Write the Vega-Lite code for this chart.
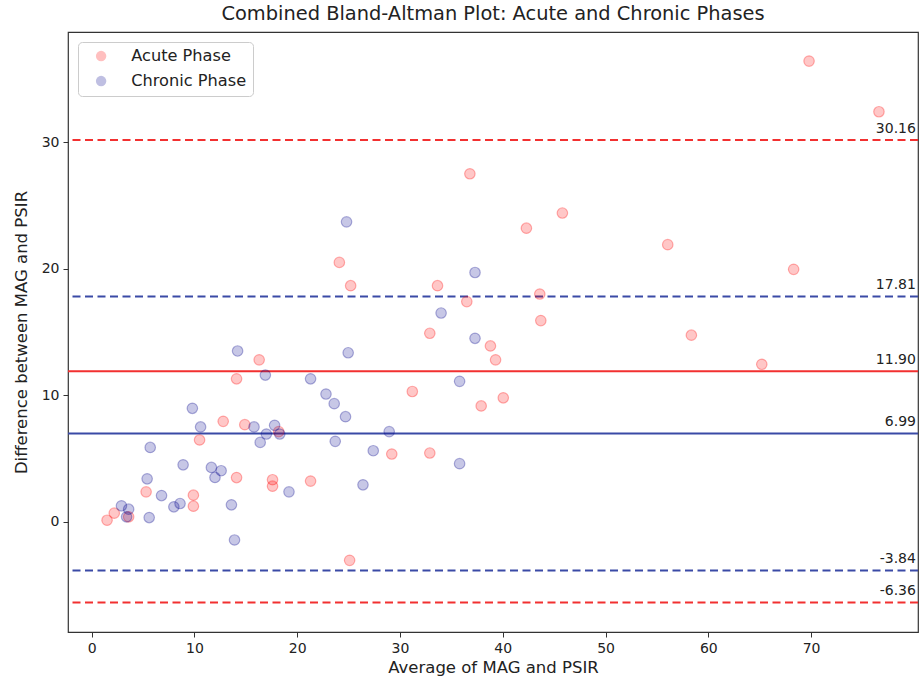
{
  "$schema": "https://vega.github.io/schema/vega-lite/v6.json",
  "autosize": {"type": "none"},
  "padding": {"left": 68, "top": 32, "right": 2, "bottom": 47},
  "width": 850,
  "height": 600,
  "background": "white",
  "config": {
    "view": {"stroke": "#333333", "strokeWidth": 1.2},
    "font": "DejaVu Sans",
    "axis": {"grid": false, "domain": false, "tickColor": "#333333", "tickSize": 5, "labelColor": "#222222", "labelFontSize": 14, "labelFont": "DejaVu Sans", "titleFont": "DejaVu Sans", "titleFontSize": 16.5, "titleFontWeight": "normal", "titleColor": "#222222", "labelPadding": 4}
  },
  "title": {"text": "Combined Bland-Altman Plot: Acute and Chronic Phases", "fontSize": 19.4, "fontWeight": "normal", "font": "DejaVu Sans", "color": "#222222", "anchor": "middle", "offset": 8},
  "datasets": {
    "points": [
      {"phase": "Acute Phase", "avg": 69.8, "diff": 36.4},
      {"phase": "Acute Phase", "avg": 76.6, "diff": 32.4},
      {"phase": "Acute Phase", "avg": 36.8, "diff": 27.5},
      {"phase": "Acute Phase", "avg": 45.8, "diff": 24.4},
      {"phase": "Acute Phase", "avg": 42.3, "diff": 23.2},
      {"phase": "Acute Phase", "avg": 56.05, "diff": 21.9},
      {"phase": "Acute Phase", "avg": 24.1, "diff": 20.5},
      {"phase": "Acute Phase", "avg": 68.3, "diff": 19.95},
      {"phase": "Acute Phase", "avg": 25.2, "diff": 18.66},
      {"phase": "Acute Phase", "avg": 33.65, "diff": 18.66},
      {"phase": "Acute Phase", "avg": 43.6, "diff": 18.0},
      {"phase": "Acute Phase", "avg": 36.5, "diff": 17.4},
      {"phase": "Acute Phase", "avg": 43.7, "diff": 15.9},
      {"phase": "Acute Phase", "avg": 32.9, "diff": 14.9},
      {"phase": "Acute Phase", "avg": 58.35, "diff": 14.75},
      {"phase": "Acute Phase", "avg": 38.8, "diff": 13.9},
      {"phase": "Acute Phase", "avg": 39.3, "diff": 12.8},
      {"phase": "Acute Phase", "avg": 65.2, "diff": 12.45},
      {"phase": "Acute Phase", "avg": 16.3, "diff": 12.8},
      {"phase": "Acute Phase", "avg": 14.1, "diff": 11.3},
      {"phase": "Acute Phase", "avg": 31.2, "diff": 10.3},
      {"phase": "Acute Phase", "avg": 40.05, "diff": 9.8},
      {"phase": "Acute Phase", "avg": 37.9, "diff": 9.16},
      {"phase": "Acute Phase", "avg": 12.8, "diff": 7.94},
      {"phase": "Acute Phase", "avg": 14.9, "diff": 7.68},
      {"phase": "Acute Phase", "avg": 10.5, "diff": 6.47},
      {"phase": "Acute Phase", "avg": 18.2, "diff": 7.13},
      {"phase": "Acute Phase", "avg": 29.2, "diff": 5.36},
      {"phase": "Acute Phase", "avg": 32.9, "diff": 5.44},
      {"phase": "Acute Phase", "avg": 17.6, "diff": 3.33},
      {"phase": "Acute Phase", "avg": 17.6, "diff": 2.82},
      {"phase": "Acute Phase", "avg": 21.3, "diff": 3.22},
      {"phase": "Acute Phase", "avg": 14.1, "diff": 3.5},
      {"phase": "Acute Phase", "avg": 5.3, "diff": 2.37},
      {"phase": "Acute Phase", "avg": 9.9, "diff": 2.11},
      {"phase": "Acute Phase", "avg": 9.9, "diff": 1.24},
      {"phase": "Acute Phase", "avg": 2.2, "diff": 0.69},
      {"phase": "Acute Phase", "avg": 1.5, "diff": 0.13},
      {"phase": "Acute Phase", "avg": 3.6, "diff": 0.4},
      {"phase": "Acute Phase", "avg": 25.1, "diff": -3.04},
      {"phase": "Chronic Phase", "avg": 24.8, "diff": 23.7},
      {"phase": "Chronic Phase", "avg": 37.3, "diff": 19.7},
      {"phase": "Chronic Phase", "avg": 34.0, "diff": 16.5},
      {"phase": "Chronic Phase", "avg": 37.3, "diff": 14.5},
      {"phase": "Chronic Phase", "avg": 14.2, "diff": 13.5},
      {"phase": "Chronic Phase", "avg": 24.96, "diff": 13.36},
      {"phase": "Chronic Phase", "avg": 16.9, "diff": 11.6},
      {"phase": "Chronic Phase", "avg": 21.3, "diff": 11.3},
      {"phase": "Chronic Phase", "avg": 35.8, "diff": 11.1},
      {"phase": "Chronic Phase", "avg": 22.8, "diff": 10.1},
      {"phase": "Chronic Phase", "avg": 23.6, "diff": 9.34},
      {"phase": "Chronic Phase", "avg": 9.8, "diff": 8.97},
      {"phase": "Chronic Phase", "avg": 24.7, "diff": 8.31},
      {"phase": "Chronic Phase", "avg": 10.6, "diff": 7.5},
      {"phase": "Chronic Phase", "avg": 15.8, "diff": 7.5},
      {"phase": "Chronic Phase", "avg": 17.8, "diff": 7.63},
      {"phase": "Chronic Phase", "avg": 17.0, "diff": 6.94},
      {"phase": "Chronic Phase", "avg": 18.3, "diff": 6.94},
      {"phase": "Chronic Phase", "avg": 16.4, "diff": 6.28},
      {"phase": "Chronic Phase", "avg": 28.95, "diff": 7.13},
      {"phase": "Chronic Phase", "avg": 23.7, "diff": 6.36},
      {"phase": "Chronic Phase", "avg": 5.7, "diff": 5.88},
      {"phase": "Chronic Phase", "avg": 27.4, "diff": 5.62},
      {"phase": "Chronic Phase", "avg": 35.8, "diff": 4.6},
      {"phase": "Chronic Phase", "avg": 8.9, "diff": 4.51},
      {"phase": "Chronic Phase", "avg": 11.65, "diff": 4.3},
      {"phase": "Chronic Phase", "avg": 12.6, "diff": 4.04},
      {"phase": "Chronic Phase", "avg": 12.0, "diff": 3.51},
      {"phase": "Chronic Phase", "avg": 5.4, "diff": 3.4},
      {"phase": "Chronic Phase", "avg": 26.4, "diff": 2.93},
      {"phase": "Chronic Phase", "avg": 6.8, "diff": 2.08},
      {"phase": "Chronic Phase", "avg": 19.2, "diff": 2.37},
      {"phase": "Chronic Phase", "avg": 2.9, "diff": 1.27},
      {"phase": "Chronic Phase", "avg": 3.6, "diff": 1.0},
      {"phase": "Chronic Phase", "avg": 3.4, "diff": 0.4},
      {"phase": "Chronic Phase", "avg": 5.6, "diff": 0.34},
      {"phase": "Chronic Phase", "avg": 8.0, "diff": 1.19},
      {"phase": "Chronic Phase", "avg": 8.6, "diff": 1.45},
      {"phase": "Chronic Phase", "avg": 13.6, "diff": 1.35},
      {"phase": "Chronic Phase", "avg": 13.9, "diff": -1.43}
    ],
    "lines": [
      {"phase": "Acute Phase", "kind": "limit", "value": 30.16, "label": "30.16"},
      {"phase": "Acute Phase", "kind": "mean", "value": 11.90, "label": "11.90"},
      {"phase": "Acute Phase", "kind": "limit", "value": -6.36, "label": "-6.36"},
      {"phase": "Chronic Phase", "kind": "limit", "value": 17.81, "label": "17.81"},
      {"phase": "Chronic Phase", "kind": "mean", "value": 6.99, "label": "6.99"},
      {"phase": "Chronic Phase", "kind": "limit", "value": -3.84, "label": "-3.84"}
    ]
  },
  "layer": [
    {
      "data": {"name": "lines"},
      "mark": {"type": "rule", "strokeWidth": 2},
      "encoding": {
        "y": {"field": "value", "type": "quantitative", "scale": {"domain": [-8.7, 38.7], "nice": false, "zero": false}},
        "color": {"field": "phase", "type": "nominal", "scale": {"domain": ["Acute Phase", "Chronic Phase"], "range": ["#f23030", "#3a4aa6"]}, "legend": null},
        "strokeDash": {"field": "kind", "type": "nominal", "scale": {"domain": ["mean", "limit"], "range": [[1, 0], [8, 4.5]]}, "legend": null}
      }
    },
    {
      "data": {"name": "lines"},
      "mark": {"type": "text", "align": "right", "baseline": "alphabetic", "dy": -7, "fontSize": 14, "color": "#222222", "font": "DejaVu Sans"},
      "encoding": {
        "x": {"datum": 80.2, "type": "quantitative"},
        "y": {"field": "value", "type": "quantitative"},
        "text": {"field": "label"}
      }
    },
    {
      "data": {"name": "points"},
      "mark": {"type": "circle", "size": 110, "fillOpacity": 0.22, "strokeOpacity": 0.3, "strokeWidth": 1.2},
      "encoding": {
        "x": {"field": "avg", "type": "quantitative", "title": "Average of MAG and PSIR", "scale": {"domain": [-2.3, 80.4], "nice": false, "zero": false}, "axis": {"values": [0, 10, 20, 30, 40, 50, 60, 70], "titlePadding": 4}},
        "y": {"field": "diff", "type": "quantitative", "title": "Difference between MAG and PSIR", "axis": {"values": [0, 10, 20, 30], "titlePadding": 12}},
        "color": {
          "field": "phase", "type": "nominal",
          "scale": {"domain": ["Acute Phase", "Chronic Phase"], "range": ["red", "darkblue"]},
          "legend": {"title": null, "orient": "top-left", "offset": 10, "padding": 6, "fillColor": "white", "strokeColor": "#cccccc", "cornerRadius": 4, "symbolType": "circle", "symbolSize": 110, "symbolOpacity": 0.25, "symbolStrokeWidth": 0, "labelFontSize": 16.2, "labelFont": "DejaVu Sans", "labelColor": "#222222", "labelOffset": 22, "rowPadding": 8, "symbolOffset": 9}
        },
        "stroke": {"field": "phase", "type": "nominal", "scale": {"domain": ["Acute Phase", "Chronic Phase"], "range": ["red", "darkblue"]}, "legend": null}
      }
    }
  ],
  "resolve": {"scale": {"color": "independent"}}
}
